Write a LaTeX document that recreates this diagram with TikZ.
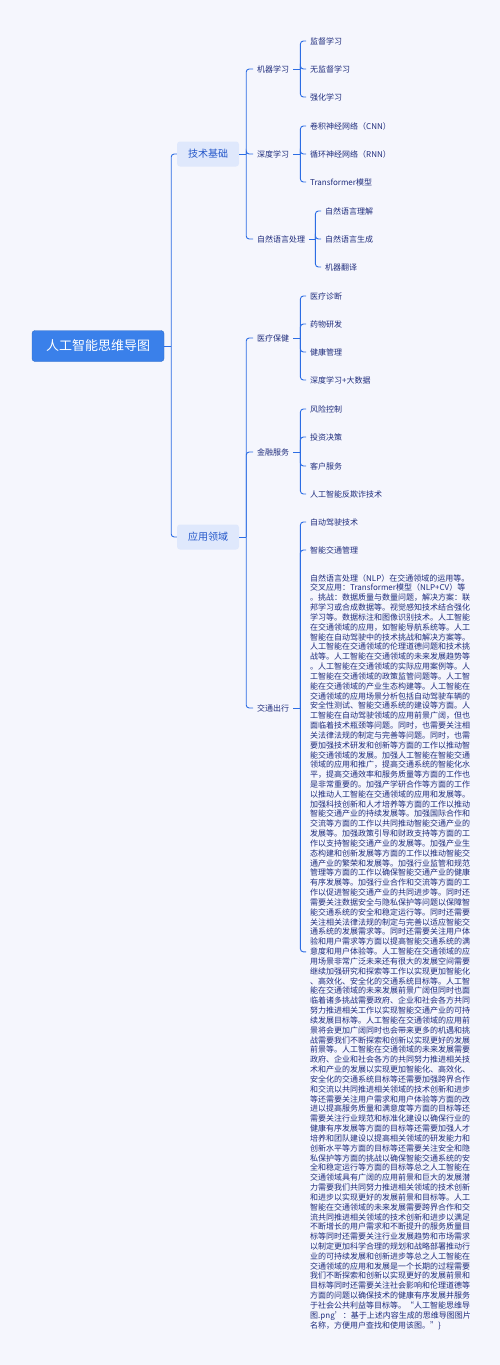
\documentclass[tikz,border=0pt]{standalone}
\usepackage{fontspec}
\setmainfont{Noto Sans CJK SC}
\usepackage{tikz}
\usetikzlibrary{positioning}
\definecolor{mmbg}{HTML}{F5F6FD}
\definecolor{mmline}{HTML}{2C6DE4}
\definecolor{mmtext}{HTML}{1F2C7C}
\definecolor{rootfill}{HTML}{3A80EA}
\definecolor{topicfill}{HTML}{DFE8FC}
\definecolor{topictext}{HTML}{2457C9}
% fork from a parent: stub to the branch line, then one hook per child
\newcommand{\mmfork}[3]{%
  \coordinate (fk) at ([xshift=#2]#1.east);
  \draw[link] (#1.east) -- (fk);
  \foreach \c in {#3} \draw[link,rounded corners=3pt] (fk) |- (\c.west);}

\begin{document}
\begin{tikzpicture}[x=1pt,y=-1pt,
  link/.style={draw=mmline,line width=0.9pt},
  rootbox/.style={fill=rootfill,draw=rootfill!85!black,rounded corners=3pt,text=white,
    minimum width=132pt,minimum height=31pt,font=\fontsize{13}{15}\selectfont},
  topic/.style={fill=topicfill,rounded corners=3pt,text=topictext,
    minimum width=62pt,minimum height=25pt,font=\fontsize{10}{12}\selectfont},
  leaf/.style={anchor=west,inner xsep=4pt,inner ysep=2pt,text=mmtext,font=\fontsize{8}{10}\selectfont}]
\useasboundingbox[fill=mmbg] (0,0) rectangle (500,1365);

\node[rootbox] (root) at (98,346) {人工智能思维导图};
\node[topic] (tech) at (208,154) {技术基础};
\node[topic] (app) at (208,537) {应用领域};

% 技术基础
\node[leaf] (ml) at (253,69) {机器学习};
\node[leaf] (dl) at (253,154) {深度学习};
\node[leaf] (nlp) at (253,239) {自然语言处理};
\node[leaf] (ml1) at (306,41) {监督学习};
\node[leaf] (ml2) at (306,69) {无监督学习};
\node[leaf] (ml3) at (306,97) {强化学习};
\node[leaf] (dl1) at (306,126) {卷积神经网络（CNN）};
\node[leaf] (dl2) at (306,154) {循环神经网络（RNN）};
\node[leaf] (dl3) at (306,182) {Transformer模型};
\node[leaf] (nlp1) at (321,211) {自然语言理解};
\node[leaf] (nlp2) at (321,239) {自然语言生成};
\node[leaf] (nlp3) at (321,267) {机器翻译};

% 应用领域
\node[leaf] (med) at (253,338) {医疗保健};
\node[leaf] (fin) at (253,452) {金融服务};
\node[leaf] (traf) at (253,708) {交通出行};
\node[leaf] (med1) at (306,296) {医疗诊断};
\node[leaf] (med2) at (306,324) {药物研发};
\node[leaf] (med3) at (306,352) {健康管理};
\node[leaf] (med4) at (306,380) {深度学习+大数据};
\node[leaf] (fin1) at (306,409) {风险控制};
\node[leaf] (fin2) at (306,437) {投资决策};
\node[leaf] (fin3) at (306,466) {客户服务};
\node[leaf] (fin4) at (306,494) {人工智能反欺诈技术};
\node[leaf] (traf1) at (306,522) {自动驾驶技术};
\node[leaf] (traf2) at (306,550) {智能交通管理};
\node[leaf,anchor=north west,inner ysep=3pt,align=left,font=\fontsize{8}{9.83}\selectfont] (traf3) at (306,571) {%
自然语言处理（NLP）在交通领域的运用等。\\
交叉应用：Transformer模型（NLP+CV）等\\
。挑战：数据质量与数量问题，解决方案：联\\
邦学习或合成数据等。视觉感知技术结合强化\\
学习等。数据标注和图像识别技术。人工智能\\
在交通领域的应用，如智能导航系统等。人工\\
智能在自动驾驶中的技术挑战和解决方案等。\\
人工智能在交通领域的伦理道德问题和技术挑\\
战等。人工智能在交通领域的未来发展趋势等\\
。人工智能在交通领域的实际应用案例等。人\\
工智能在交通领域的政策监管问题等。人工智\\
能在交通领域的产业生态构建等。人工智能在\\
交通领域的应用场景分析包括自动驾驶车辆的\\
安全性测试、智能交通系统的建设等方面。人\\
工智能在自动驾驶领域的应用前景广阔，但也\\
面临着技术瓶颈等问题。同时，也需要关注相\\
关法律法规的制定与完善等问题。同时，也需\\
要加强技术研发和创新等方面的工作以推动智\\
能交通领域的发展。加强人工智能在智能交通\\
领域的应用和推广，提高交通系统的智能化水\\
平，提高交通效率和服务质量等方面的工作也\\
是非常重要的。加强产学研合作等方面的工作\\
以推动人工智能在交通领域的应用和发展等。\\
加强科技创新和人才培养等方面的工作以推动\\
智能交通产业的持续发展等。加强国际合作和\\
交流等方面的工作以共同推动智能交通产业的\\
发展等。加强政策引导和财政支持等方面的工\\
作以支持智能交通产业的发展等。加强产业生\\
态构建和创新发展等方面的工作以推动智能交\\
通产业的繁荣和发展等。加强行业监管和规范\\
管理等方面的工作以确保智能交通产业的健康\\
有序发展等。加强行业合作和交流等方面的工\\
作以促进智能交通产业的共同进步等。同时还\\
需要关注数据安全与隐私保护等问题以保障智\\
能交通系统的安全和稳定运行等。同时还需要\\
关注相关法律法规的制定与完善以适应智能交\\
通系统的发展需求等。同时还需要关注用户体\\
验和用户需求等方面以提高智能交通系统的满\\
意度和用户体验等。人工智能在交通领域的应\\
用场景非常广泛未来还有很大的发展空间需要\\
继续加强研究和探索等工作以实现更加智能化\\
、高效化、安全化的交通系统目标等。人工智\\
能在交通领域的未来发展前景广阔但同时也面\\
临着诸多挑战需要政府、企业和社会各方共同\\
努力推进相关工作以实现智能交通产业的可持\\
续发展目标等。人工智能在交通领域的应用前\\
景将会更加广阔同时也会带来更多的机遇和挑\\
战需要我们不断探索和创新以实现更好的发展\\
前景等。人工智能在交通领域的未来发展需要\\
政府、企业和社会各方的共同努力推进相关技\\
术和产业的发展以实现更加智能化、高效化、\\
安全化的交通系统目标等还需要加强跨界合作\\
和交流以共同推进相关领域的技术创新和进步\\
等还需要关注用户需求和用户体验等方面的改\\
进以提高服务质量和满意度等方面的目标等还\\
需要关注行业规范和标准化建设以确保行业的\\
健康有序发展等方面的目标等还需要加强人才\\
培养和团队建设以提高相关领域的研发能力和\\
创新水平等方面的目标等还需要关注安全和隐\\
私保护等方面的挑战以确保智能交通系统的安\\
全和稳定运行等方面的目标等总之人工智能在\\
交通领域具有广阔的应用前景和巨大的发展潜\\
力需要我们共同努力推进相关领域的技术创新\\
和进步以实现更好的发展前景和目标等。人工\\
智能在交通领域的未来发展需要跨界合作和交\\
流共同推进相关领域的技术创新和进步以满足\\
不断增长的用户需求和不断提升的服务质量目\\
标等同时还需要关注行业发展趋势和市场需求\\
以制定更加科学合理的规划和战略部署推动行\\
业的可持续发展和创新进步等总之人工智能在\\
交通领域的应用和发展是一个长期的过程需要\\
我们不断探索和创新以实现更好的发展前景和\\
目标等同时还需要关注社会影响和伦理道德等\\
方面的问题以确保技术的健康有序发展并服务\\
于社会公共利益等目标等。“人工智能思维导\\
图.png’：基于上述内容生成的思维导图图片\\
名称，方便用户查找和使用该图。”\}};

% connectors
\mmfork{root}{7pt}{tech,app}
\mmfork{tech}{7pt}{ml,dl,nlp}
\mmfork{app}{7pt}{med,fin,traf}
\mmfork{ml}{7pt}{ml1,ml2,ml3}
\mmfork{dl}{7pt}{dl1,dl2,dl3}
\mmfork{nlp}{6pt}{nlp1,nlp2,nlp3}
\mmfork{med}{7pt}{med1,med2,med3,med4}
\mmfork{fin}{7pt}{fin1,fin2,fin3,fin4}
\mmfork{traf}{7pt}{traf1,traf2,traf3}
\end{tikzpicture}
\end{document}
